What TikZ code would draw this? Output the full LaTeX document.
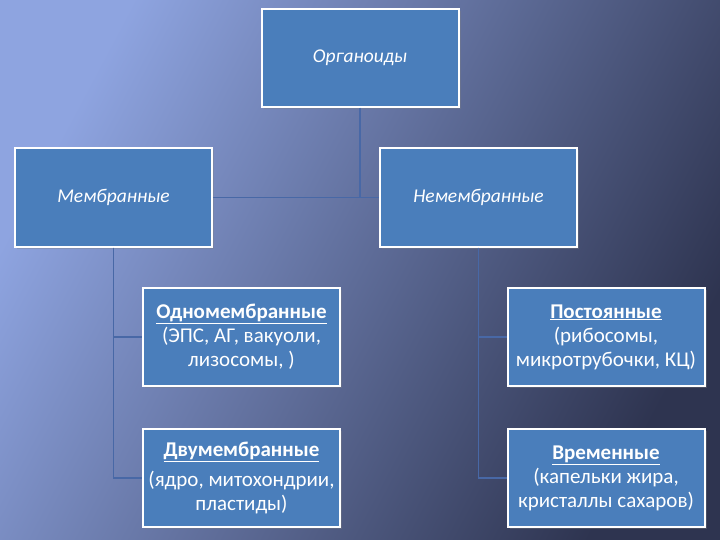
\documentclass[tikz,border=0pt]{standalone}
\usepackage{fontspec}
\setmainfont{Carlito}
\usetikzlibrary{positioning, shadows}
\definecolor{boxblue}{RGB}{74,126,187}
\definecolor{linkblue}{RGB}{72,104,166}
\definecolor{bglight}{RGB}{142,164,224}
\definecolor{bgmid}{RGB}{76,90,138}
\definecolor{bgdark}{RGB}{46,52,80}

\begin{document}
\begin{tikzpicture}[x=1pt, y=-1pt,
    box/.style={draw=white, line width=2pt, fill=boxblue, text=white, minimum width=197pt, minimum height=98pt, align=center, drop shadow={opacity=0.35, shadow xshift=2pt, shadow yshift=-2pt}},
    title/.style={box, font=\fontsize{19.5}{23}\selectfont\itshape},
    kind/.style={box, font=\fontsize{21}{24}\selectfont},
    link/.style={draw=linkblue, line width=1.5pt}]
\shade[top color=bglight, middle color=bgmid, bottom color=bgdark, shading angle=62] (0,0) rectangle (720,540);
\draw
    node [title] (org) at (360,58) {Органоиды}
    node [title] (mem) at (113.5,197.5) {Мембранные}
    node [title] (nemem) at (478.5,197.5) {Немембранные}
    node [kind] (single) at (241.5,337) {\underline{\textbf{Одномембранные}}\\(ЭПС, АГ, вакуоли,\\лизосомы, )}
    node [kind, below=41pt of single] (double) {\underline{\textbf{Двумембранные}}\\[6pt](ядро, митохондрии,\\пластиды)}
    node [kind] (const) at (606,337) {\underline{\textbf{Постоянные}}\\(рибосомы,\\микротрубочки, КЦ)}
    node [kind, below=41pt of const] (temp) {\underline{\textbf{Временные}}\\(капельки жира,\\кристаллы сахаров)}
;
\draw[link] (org.south) |- (mem.east);
\draw[link] (org.south) |- (nemem.west);
\draw[link] (mem.south) |- (single.west);
\draw[link] (mem.south) |- (double.west);
\draw[link] (nemem.south) |- (const.west);
\draw[link] (nemem.south) |- (temp.west);
\end{tikzpicture}
\end{document}
